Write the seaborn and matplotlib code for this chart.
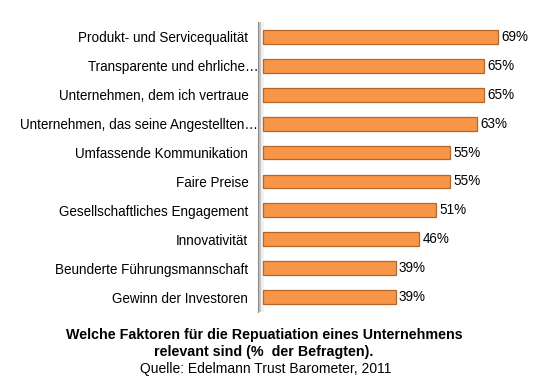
import matplotlib
matplotlib.use("Agg")
import matplotlib.pyplot as plt
import matplotlib.transforms as mtransforms
import seaborn as sns
import pandas as pd
import numpy as np

categories = [
    "Produkt- und Servicequalität",
    "Transparente und ehrliche…",
    "Unternehmen, dem ich vertraue",
    "Unternehmen, das seine Angestellten…",
    "Umfassende Kommunikation",
    "Faire Preise",
    "Gesellschaftliches Engagement",
    "Innovativität",
    "Beunderte Führungsmannschaft",
    "Gewinn der Investoren",
]
values = [69, 65, 65, 63, 55, 55, 51, 46, 39, 39]
value_labels = ["69%", "65%", "65%", "63%", "55%", "55%", "51%", "46%", "39%", "39%"]

sns.set_theme(style="white")
plt.rcParams["font.family"] = ["Liberation Sans", "DejaVu Sans"]
plt.rcParams["text.color"] = "#000000"

df = pd.DataFrame({"cat": categories, "val": values})

fig = plt.figure(figsize=(5.55, 3.87), dpi=100)
ax = fig.add_axes([258 / 555, 0.195, 0.499, 0.747])

# wall
ax.axvspan(-1.5, -0.5, color="#C4C4C4", lw=0, zorder=0)
ax.axvspan(-0.5, 0.4, color="#F2F2F2", lw=0, zorder=0)

sns.barplot(data=df, x="val", y="cat", color="#F79646", width=0.48,
            edgecolor="#B8652A", linewidth=0.9, saturation=1, ax=ax, zorder=2)

ax.set_xlim(-1.5, 80)
ax.set_ylim(len(categories) - 0.5, -0.5)
ax.set_xlabel("")
ax.set_ylabel("")
ax.set_xticks([])
ax.tick_params(axis="y", length=0, labelsize=9.75, pad=7, labelcolor="#000000")
for s in ["top", "right", "bottom"]:
    ax.spines[s].set_visible(False)
ax.spines["left"].set_color("#8C8C8C")
ax.spines["left"].set_linewidth(0.8)

ax.set_yticks(np.arange(-0.5, len(categories) + 0.5, 1), minor=True)
ax.tick_params(axis="y", which="minor", length=4, width=0.8, color="#808080", direction="out", pad=0)

# truncated labels run up to the wall
shift = mtransforms.ScaledTranslation(10 / 100, 0, fig.dpi_scale_trans)
for lbl in ax.get_yticklabels():
    if lbl.get_text().endswith("…"):
        lbl.set_transform(lbl.get_transform() + shift)

for i, (v, lab) in enumerate(zip(values, value_labels)):
    ax.text(v + 1.0, i, lab, va="center", ha="left", fontsize=9.75, color="#000000")

fig.text(0.476, 1 - 335 / 387, "Welche Faktoren für die Repuatiation eines Unternehmens",
         ha="center", va="center", fontsize=10.3, fontweight="bold", color="#000000")
fig.text(0.476, 1 - 352 / 387, "relevant sind (%  der Befragten).",
         ha="center", va="center", fontsize=10.3, fontweight="bold", color="#000000")
fig.text(0.478, 1 - 369 / 387, "Quelle: Edelmann Trust Barometer, 2011",
         ha="center", va="center", fontsize=10, color="#000000")

fig.savefig("out.png", dpi=100)
